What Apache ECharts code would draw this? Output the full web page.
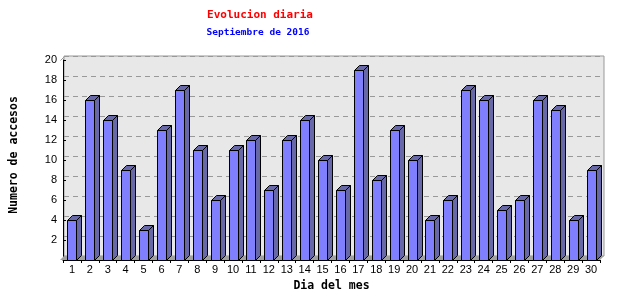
<!DOCTYPE html>
<html><head><meta charset="utf-8">
<script src="https://cdn.jsdelivr.net/npm/echarts@6/dist/echarts.min.js"></script>
<style>html,body{margin:0;padding:0;background:#fff}#c{width:640px;height:300px}</style>
</head><body><div id="c"></div>
<script>
const days = ['1','2','3','4','5','6','7','8','9','10','11','12','13','14','15','16','17','18','19','20','21','22','23','24','25','26','27','28','29','30'];
const accesos = [4,16,14,9,3,13,17,11,6,11,12,7,12,14,10,7,19,8,13,10,4,6,17,16,5,6,16,15,4,9];
const yTicks = [0,2,4,6,8,10,12,14,16,18,20];

const G = {left:60, top:60, w:540, h:200};
const WALL = 4, DEPTH = 5;
const chart = echarts.init(document.getElementById('c'), null, {renderer:'canvas'});

chart.setOption({
  animation:false,
  backgroundColor:'#ffffff',
  title:[
    {text:'Evolucion diaria', left:255, textAlign:'center', top:5,
     textStyle:{color:'#ff0000', fontFamily:'DejaVu Sans Mono', fontWeight:'bold', fontSize:11}},
    {text:'Septiembre de 2016', left:253, textAlign:'center', top:23,
     textStyle:{color:'#0000ff', fontFamily:'DejaVu Sans Mono', fontWeight:'bold', fontSize:9.5}}
  ],
  grid:[
    {left:G.left, top:G.top, width:G.w, height:G.h, show:false},
    {left:G.left+WALL, top:G.top-WALL, width:G.w, height:G.h, show:true,
     backgroundColor:'#e8e8e8', borderColor:'#999999', borderWidth:1, z:0}
  ],
  xAxis:[
    {type:'category', gridIndex:0, data:days, boundaryGap:true,
     name:'Dia del mes', nameLocation:'middle', nameGap:15,
     nameTextStyle:{fontFamily:'DejaVu Sans Mono', fontWeight:'bold', fontSize:11.5, color:'#000'},
     axisLine:{lineStyle:{color:'#000', width:1}},
     axisTick:{show:true, length:3, lineStyle:{color:'#000'}},
     axisLabel:{fontFamily:'Liberation Sans', fontSize:11, color:'#000', margin:4, interval:0}},
    {type:'category', gridIndex:1, data:days, show:false}
  ],
  yAxis:[
    {type:'value', gridIndex:0, min:yTicks[0], max:yTicks[yTicks.length-1], interval:2,
     name:'Numero de accesos', nameLocation:'middle', nameGap:43, nameRotate:90,
     nameTextStyle:{fontFamily:'DejaVu Sans Mono', fontWeight:'bold', fontSize:11.5, color:'#000', padding:[0,0,0,10]},
     axisLine:{show:true, lineStyle:{color:'#000', width:1}},
     axisTick:{show:true, inside:true, length:3, lineStyle:{color:'#000'}},
     splitLine:{show:false},
     axisLabel:{fontFamily:'Liberation Sans', fontSize:11, color:'#000', margin:6, padding:[4,0,0,0],
       formatter:v => v === 0 ? '' : String(v)}},
    {type:'value', gridIndex:1, min:yTicks[0], max:yTicks[yTicks.length-1], interval:2,
     axisLine:{show:false}, axisTick:{show:false}, axisLabel:{show:false},
     splitLine:{show:true, lineStyle:{color:'#999999', type:[5,4], width:1}}}
  ],
  graphic:[
    {type:'polygon', z:1, silent:true,
     shape:{points:[[G.left, G.top+G.h],[G.left+WALL, G.top+G.h-WALL],[G.left+G.w+WALL, G.top+G.h-WALL],[G.left+G.w, G.top+G.h]]},
     style:{fill:'#a0a0a0'}},
    {type:'line', z:1, silent:true,
     shape:{x1:G.left+0.5, y1:G.top+0.5, x2:G.left+WALL+0.5, y2:G.top-WALL+0.5},
     style:{stroke:'#999999', lineWidth:1}}
  ],
  series:[{
    type:'custom', xAxisIndex:0, yAxisIndex:0, z:5,
    data: accesos.map((v,i)=>[i, v]),
    renderItem:(params, api)=>{
      const base = api.coord([api.value(0), 0]);
      const top = api.coord([api.value(0), api.value(1)]);
      const band = api.size([1,0])[0];
      const w = Math.round(band*0.53);
      const x0 = Math.round(base[0]-w/2)+0.5, x1 = x0 + w;
      const yb = Math.round(base[1])+0.5, yt = Math.round(top[1])+0.5;
      const d = DEPTH;
      const st = {stroke:'#000', lineWidth:1};
      return {type:'group', children:[
        {type:'polygon', shape:{points:[[x1,yt],[x1+d,yt-d],[x1+d,yb-d],[x1,yb]]}, style:Object.assign({fill:'#6868a8'},st)},
        {type:'polygon', shape:{points:[[x0,yt],[x0+d,yt-d],[x1+d,yt-d],[x1,yt]]}, style:Object.assign({fill:'#6868a8'},st)},
        {type:'rect', shape:{x:x0, y:yt, width:w, height:yb-yt}, style:Object.assign({fill:'#8080ff'},st)}
      ]};
    }
  }]
});
</script></body></html>
